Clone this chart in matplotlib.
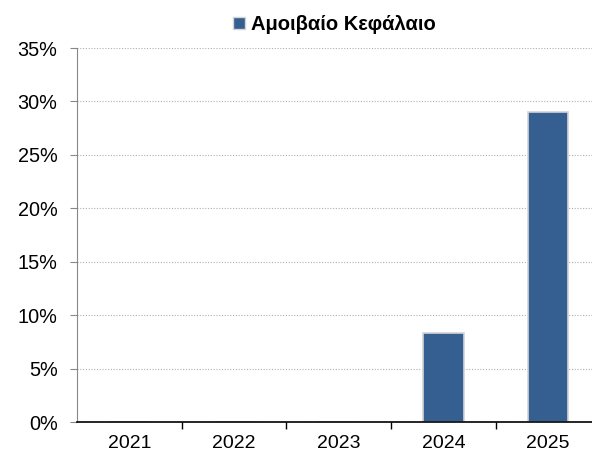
import matplotlib.pyplot as plt
from matplotlib.lines import Line2D
from matplotlib.ticker import FuncFormatter, MultipleLocator

years = ['2021', '2022', '2023', '2024', '2025']
fund_share = [0.0, 0.0, 0.0, 8.3, 29.0]
series_name = 'Αμοιβαίο Κεφάλαιο'

bar_color = '#365f91'

plt.rcParams['font.family'] = ['Liberation Sans', 'DejaVu Sans']

fig = plt.figure(figsize=(5.92, 4.53), dpi=100)
ax = fig.add_axes([77 / 592, 1 - 422 / 453, 1 - 77 / 592, (422 - 48) / 453])

x = range(len(years))
ax.bar(x, fund_share, width=0.39, color=bar_color, edgecolor='#d4d4d4', linewidth=1.2, zorder=3)

ax.set_ylim(0, 35)
ax.set_xlim(-0.5, 4.42)
ax.yaxis.set_major_locator(MultipleLocator(5))
ax.yaxis.set_major_formatter(FuncFormatter(lambda v, p: '%d%%' % v))
ax.grid(axis='y', color='#b0b0b0', linestyle=(0, (1, 1.5)), linewidth=0.8, zorder=0)

# category labels centered, tick marks between categories
ax.set_xticks([i + 0.5 for i in range(len(years) - 1)])
ax.set_xticklabels([])
ax.set_xticks(list(x), minor=True)
ax.set_xticklabels(years, minor=True, fontsize=14)
ax.tick_params(axis='x', which='minor', length=0, pad=9)
ax.tick_params(axis='x', which='major', length=5, width=1, color='black', direction='out')
ax.tick_params(axis='y', labelsize=14.3, length=5, color='#888888', pad=9)

for s in ['top', 'right']:
    ax.spines[s].set_visible(False)
ax.spines['left'].set_color('#888888')
ax.spines['bottom'].set_color('black')
ax.spines['bottom'].set_linewidth(1.2)
ax.spines['bottom'].set_zorder(4)

handle = Line2D([], [], marker='s', linestyle='none', markersize=8,
                markerfacecolor=bar_color, markeredgecolor='#d4d4d4')
fig.legend([handle], [series_name], loc='center', bbox_to_anchor=(332 / 592, 1 - 25 / 453),
           frameon=False, handletextpad=0.1, handlelength=1.0,
           prop={'weight': 'bold', 'size': 14.5})

fig.savefig('out.png', dpi=100)
